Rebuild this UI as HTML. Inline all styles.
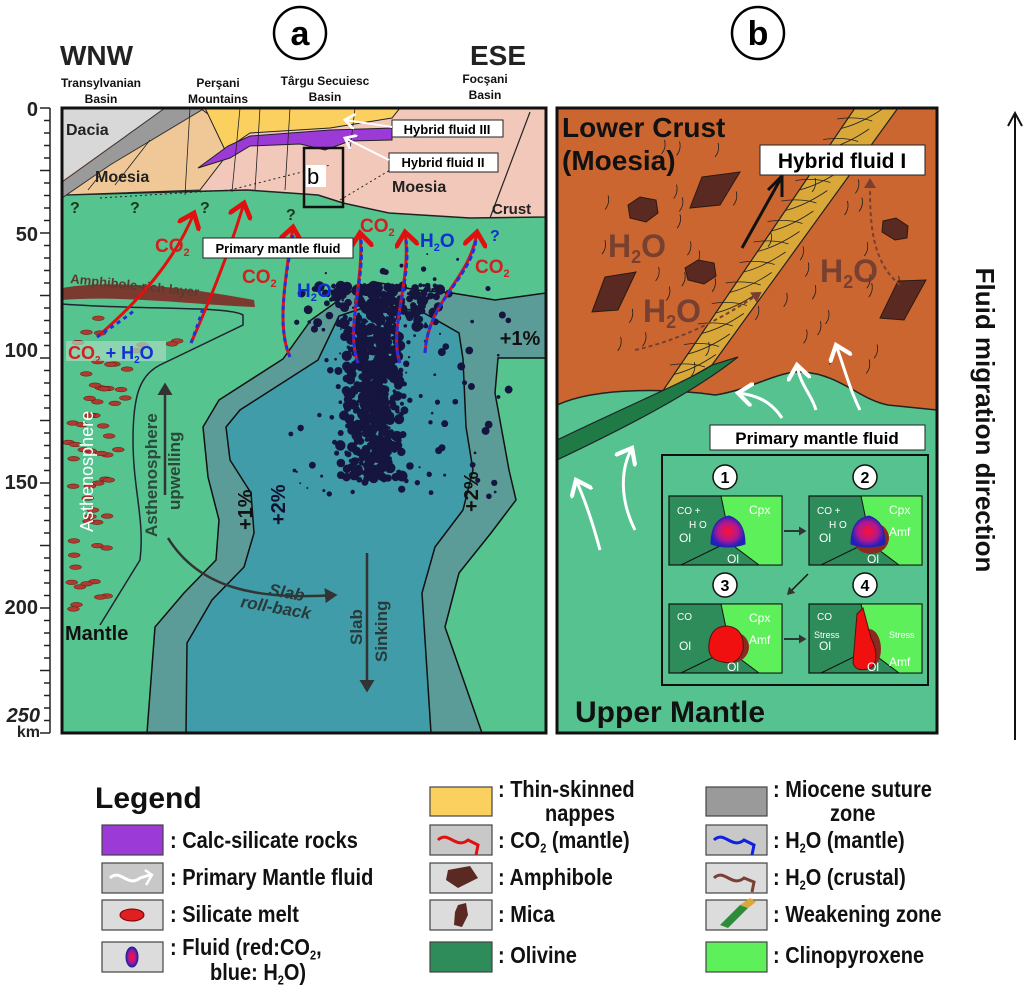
<!DOCTYPE html>
<html><head><meta charset="utf-8"><style>
html,body{margin:0;padding:0;background:#fff;}
svg{display:block;}
text{font-family:"Liberation Sans",sans-serif;}
</style></head><body>
<svg id="s" width="1024" height="985" viewBox="0 0 1024 985" xmlns="http://www.w3.org/2000/svg">
<defs>
<marker id="ar" markerWidth="8" markerHeight="8" refX="5" refY="4" orient="auto" markerUnits="strokeWidth"><path d="M0,0 L5,4 L0,8" fill="none" stroke="#e01010" stroke-width="1.6"/></marker>
<marker id="aw" markerWidth="8" markerHeight="8" refX="5" refY="4" orient="auto" markerUnits="strokeWidth"><path d="M0,0 L5,4 L0,8" fill="none" stroke="#fff" stroke-width="1.4"/></marker>
<marker id="ak" markerWidth="6" markerHeight="6" refX="4" refY="3" orient="auto" markerUnits="strokeWidth"><path d="M0,0 L5,3 L0,6 Z" fill="#333"/></marker>
<marker id="ab" markerWidth="6" markerHeight="6" refX="4" refY="3" orient="auto" markerUnits="strokeWidth"><path d="M0,0 L5,3 L0,6 Z" fill="#7a3f30"/></marker>
<radialGradient id="fl"><stop offset="0" stop-color="#ff1030"/><stop offset="0.6" stop-color="#b01890"/><stop offset="1" stop-color="#2020c0"/></radialGradient>
<clipPath id="ca"><rect x="62" y="108" width="484" height="625"/></clipPath>
<clipPath id="cb"><rect x="557" y="108" width="380" height="625"/></clipPath>
</defs>

<circle cx="300" cy="33" r="26" fill="#fff" stroke="#000" stroke-width="2.5"/>
<text x="300" y="45" font-size="34" font-weight="bold" text-anchor="middle">a</text>
<circle cx="758" cy="33" r="26" fill="#fff" stroke="#000" stroke-width="2.5"/>
<text x="758" y="45" font-size="34" font-weight="bold" text-anchor="middle">b</text>
<text x="60" y="65" font-size="28" font-weight="bold" fill="#222">WNW</text>
<text x="470" y="65" font-size="28" font-weight="bold" fill="#222">ESE</text>
<g font-size="12" font-weight="bold" text-anchor="middle" fill="#111">
<text x="101" y="87">Transylvanian</text><text x="101" y="103">Basin</text>
<text x="218" y="87">Perşani</text><text x="218" y="103">Mountains</text>
<text x="325" y="85">Târgu Secuiesc</text><text x="325" y="101">Basin</text>
<text x="485" y="83">Focşani</text><text x="485" y="99">Basin</text>
</g>

<g stroke="#222" stroke-width="1.5">
<line x1="50" y1="108" x2="50" y2="733"/>
</g>
<g id="ticks" stroke="#222" stroke-width="1.5"></g>
<g font-size="20" font-weight="bold" fill="#222" text-anchor="end">
<text x="38" y="116">0</text><text x="38" y="241">50</text><text x="38" y="357">100</text>
<text x="38" y="489">150</text><text x="38" y="614">200</text>
<text x="40" y="722" font-style="italic">250</text><text x="40" y="737" font-size="16">km</text>
</g>

<g clip-path="url(#ca)">
<rect x="62" y="108" width="484" height="625" fill="#55c48e"/>
<path d="M62,108 H546 V217 L470,218 L389,213 L343,203 L318,195 L247,190 L62,195 Z" fill="#f2c8ba" stroke="#222" stroke-width="1.5"/>
<path d="M200,108 L240,138 L200,190 L62,195 L62,195 Z" fill="#f0c898" stroke="#222" stroke-width="1"/>
<path d="M62,108 H165 L62,180 Z" fill="#d8d8d8"/>
<path d="M165,108 H205 L110,165 L62,198 L62,182 Z" fill="#9a9a9a" stroke="#333" stroke-width="1"/>
<path d="M205,108 H400 L392,118 L330,128 L250,133 L225,150 Z" fill="#fbd05e" stroke="#222" stroke-width="1"/>
<path d="M198,168 L228,146 L250,136 L330,130 L392,128 L392,140 L350,141 L325,150 L300,144 L250,146 L230,158 Z" fill="#9b3ad6" stroke="#222" stroke-width="1"/>
<path d="M530,112 L490,218" stroke="#222" stroke-width="1.2"/>
<g stroke="#222" stroke-width="0.8" fill="none">
<path d="M190,108 L185,195"/><path d="M240,108 L232,192"/><path d="M260,108 L255,190"/><path d="M290,108 L285,190"/><path d="M355,108 L350,150"/>
<path d="M100,175 L88,190" /><path d="M150,140 L115,185"/>
</g>
<g stroke="#222" stroke-width="1" stroke-dasharray="2,3" fill="none">
<path d="M100,198 L230,190 L330,165"/><path d="M340,200 L390,170"/>
</g>
<text x="66" y="135" font-size="16" font-weight="bold" fill="#222">Dacia</text>
<text x="95" y="182" font-size="16" font-weight="bold" fill="#222">Moesia</text>
<text x="392" y="192" font-size="16" font-weight="bold" fill="#222">Moesia</text>
<text x="492" y="214" font-size="15" font-weight="bold" fill="#222">Crust</text>
<g font-family="Liberation Serif" font-size="16" font-weight="bold" fill="#1a3a1a">
<text x="70" y="213">?</text><text x="130" y="213">?</text><text x="200" y="213">?</text><text x="286" y="220">?</text>
</g>
<path d="M375,282 L353,290 L311,320 L283,359 L219,400 L203,427 L208,477 L219,520 L216,560 L184,593 L155,627 L147,733 L482,733 L445,627 L459,573 L491,533 L516,500 L509,470 L495,393 L498,358 L546,358 L546,293 L495,300 L452,293 L417,290 Z" fill="#5c9c98" stroke="#111" stroke-width="1.5"/>
<path d="M378,303 L339,316 L318,360 L240,410 L226,427 L230,460 L251,493 L254,533 L244,567 L212,600 L187,643 L186,733 L431,733 L422,593 L435,547 L463,510 L473,470 L466,427 L463,359 L459,333 L424,313 Z" fill="#3f9ca8" stroke="#111" stroke-width="1.5"/>
<path d="M62,288 C120,278 200,290 254,300 L255,307 C200,305 120,295 62,300 Z" fill="#7a3a30"/>
<text x="70" y="283" font-family="Liberation Serif" font-size="13" font-weight="bold" fill="#5a3a30" transform="rotate(6 70 283)">Amphibole-rich layer</text>
<path d="M62,304 C140,310 230,306 243,315 L243,325 L160,365 C140,375 133,395 133,440 C133,490 145,520 140,560 L100,625" fill="none" stroke="#223" stroke-width="1.5"/>
<g id="ov" fill="#b03a30" stroke="#5a1a10" stroke-width="0.5"></g>
<g id="eq" fill="#151540"></g>
<g fill="none" stroke-width="3">
<path d="M97,337 C140,300 175,260 194,213" stroke="#e01010" marker-end="url(#ar)"/>
<path d="M97,337 C115,325 125,318 135,310" stroke="#2030e0" stroke-dasharray="4,4"/>
<path d="M191,343 C210,300 230,250 244,203" stroke="#e01010" marker-end="url(#ar)"/>
<path d="M191,343 C196,330 200,318 204,305" stroke="#2030e0" stroke-dasharray="4,4"/>
<path d="M290,357 C278,330 283,290 293,227" stroke="#e01010" marker-end="url(#ar)"/>
<path d="M290,357 C278,330 283,290 293,235" stroke="#2030e0" stroke-dasharray="4,4"/>
<path d="M358,363 C345,330 365,280 360,233" stroke="#e01010" marker-end="url(#ar)"/>
<path d="M358,363 C345,330 365,280 361,240" stroke="#2030e0" stroke-dasharray="5,3"/>
<path d="M400,363 C388,330 412,280 405,232" stroke="#e01010" marker-end="url(#ar)"/>
<path d="M400,363 C388,330 412,280 406,240" stroke="#2030e0" stroke-dasharray="5,3"/>
<path d="M425,353 C428,300 470,280 477,232" stroke="#e01010" marker-end="url(#ar)"/>
<path d="M425,353 C428,300 470,280 476,240" stroke="#2030e0" stroke-dasharray="5,3"/>
</g>
<g font-weight="bold" font-size="19">
<text x="155" y="252" fill="#d02020">CO<tspan font-size="11" dy="4">2</tspan></text>
<text x="242" y="283" fill="#d02020">CO<tspan font-size="11" dy="4">2</tspan></text>
<text x="297" y="297" fill="#1030d0">H<tspan font-size="11" dy="4">2</tspan><tspan dy="-4">O</tspan></text>
<text x="360" y="232" fill="#d02020">CO<tspan font-size="11" dy="4">2</tspan></text>
<text x="420" y="247" fill="#1030d0">H<tspan font-size="11" dy="4">2</tspan><tspan dy="-4">O</tspan></text>
<text x="475" y="273" fill="#d02020">CO<tspan font-size="11" dy="4">2</tspan></text>
<text x="490" y="241" fill="#1030d0" font-family="Liberation Serif" font-size="16">?</text>
</g>
<rect x="66" y="341" width="100" height="20" fill="#a8dcc0" opacity="0.7"/>
<text x="68" y="359" font-size="18" font-weight="bold"><tspan fill="#d02020">CO</tspan><tspan fill="#d02020" font-size="10" dy="4">2</tspan><tspan fill="#1030d0" dy="-4"> + H</tspan><tspan fill="#1030d0" font-size="10" dy="4">2</tspan><tspan fill="#1030d0" dy="-4">O</tspan></text>
<rect x="203" y="238" width="150" height="20" fill="#fff" stroke="#222"/>
<text x="278" y="253" font-size="13" font-weight="bold" text-anchor="middle">Primary mantle fluid</text>
<rect x="304" y="148" width="39" height="59" fill="none" stroke="#111" stroke-width="2.5"/>
<rect x="306" y="165" width="20" height="22" fill="#fff"/>
<text x="307" y="184" font-family="Liberation Serif" font-size="22">b</text>
<rect x="392" y="120" width="111" height="17" fill="#fff" stroke="#222"/>
<text x="447" y="134" font-size="13" font-weight="bold" text-anchor="middle">Hybrid fluid III</text>
<rect x="389" y="153" width="109" height="19" fill="#fff" stroke="#222"/>
<text x="443" y="167" font-size="13" font-weight="bold" text-anchor="middle">Hybrid fluid II</text>
<path d="M392,127 L345,120" stroke="#fff" stroke-width="2" marker-end="url(#aw)"/>
<path d="M389,160 L345,138" stroke="#fff" stroke-width="2" marker-end="url(#aw)"/>
<text x="520" y="345" font-size="20" font-weight="bold" text-anchor="middle" fill="#111">+1%</text>
<text transform="translate(252,530) rotate(-90)" font-size="20" font-weight="bold" fill="#111">+1%</text>
<text transform="translate(285,525) rotate(-90)" font-size="20" font-weight="bold" fill="#111030">+2%</text>
<text transform="translate(478,512) rotate(-90)" font-size="20" font-weight="bold" fill="#111">+2%</text>
<text transform="translate(93,532) rotate(-90)" font-size="18" fill="#fff">Asthenosphere</text>
<text transform="translate(157,537) rotate(-90)" font-size="17" font-weight="bold" fill="#2a4a3a">Asthenosphere</text>
<text transform="translate(180,510) rotate(-90)" font-size="17" font-weight="bold" fill="#2a4a3a">upwelling</text>
<line x1="165" y1="495" x2="165" y2="385" stroke="#333" stroke-width="2.5" marker-end="url(#ak)"/>
<path d="M168,538 C200,590 260,600 335,595" fill="none" stroke="#333" stroke-width="2.5" marker-end="url(#ak)"/>
<text x="268" y="595" font-size="17" font-style="italic" font-weight="bold" fill="#2a3a3a" transform="rotate(10 268 595)">Slab</text>
<text x="240" y="607" font-size="17" font-style="italic" font-weight="bold" fill="#2a3a3a" transform="rotate(10 240 607)">roll-back</text>
<line x1="367" y1="553" x2="367" y2="690" stroke="#333" stroke-width="2.5" marker-end="url(#ak)"/>
<text transform="translate(362,645) rotate(-90)" font-size="17" font-weight="bold" fill="#2a3a3a">Slab</text>
<text transform="translate(387,662) rotate(-90)" font-size="17" font-weight="bold" fill="#2a3a3a">Sinking</text>
<text x="65" y="640" font-size="20" font-weight="bold" fill="#111">Mantle</text>
</g>
<rect x="62" y="108" width="484" height="625" fill="none" stroke="#111" stroke-width="3"/>

<g clip-path="url(#cb)">
<rect x="557" y="108" width="380" height="625" fill="#cc6630"/>
<path d="M557,405 C600,385 680,390 715,395 C750,390 780,370 802,372 C840,374 860,400 888,405 L937,410 V733 H557 Z" fill="#55c290" stroke="#222" stroke-width="1.5"/>
<path d="M660,395 L855,108 L898,108 L712,365 Z" fill="#d9a838" stroke="#222" stroke-width="1.2"/>
<g stroke="#222" stroke-width="0.8" fill="none" id="mesh"></g>
<path d="M557,460 C620,430 690,395 738,357 L712,365 C690,380 640,400 557,440 Z" fill="#1f7a45" stroke="#222" stroke-width="1.2"/>
<g fill="#5a2a22" stroke="#2a1a10" stroke-width="1">
<polygon points="628,205 640,197 656,200 658,213 646,222 630,218"/>
<polygon points="685,268 698,260 714,263 716,276 704,284 688,280"/>
<polygon points="883,221 896,218 908,226 907,238 895,240 882,232"/>
<polygon points="702,177 740,172 720,205 690,208"/>
<polygon points="605,277 636,272 618,310 592,312"/>
<polygon points="898,281 926,280 904,320 880,318"/>
</g>
<g fill="#6a3a30" font-weight="bold" font-size="32" opacity="0.85">
<text x="608" y="257">H<tspan font-size="18" dy="6">2</tspan><tspan dy="-6">O</tspan></text>
<text x="643" y="322">H<tspan font-size="18" dy="6">2</tspan><tspan dy="-6">O</tspan></text>
<text x="820" y="282">H<tspan font-size="18" dy="6">2</tspan><tspan dy="-6">O</tspan></text>
</g>
<path d="M635,350 C680,340 720,320 760,293" fill="none" stroke="#7a3f30" stroke-width="2" stroke-dasharray="4,3" marker-end="url(#ab)"/>
<path d="M900,285 C870,260 870,220 870,180" fill="none" stroke="#7a3f30" stroke-width="2" stroke-dasharray="4,3" marker-end="url(#ab)"/>
<path d="M742,248 L780,180" stroke="#111" stroke-width="3"/><path d="M768,190 L782,176 L782,197" stroke="#111" stroke-width="3" fill="none"/>
<g fill="none" stroke="#fff" stroke-width="3">
<path d="M782,418 C770,400 755,395 738,393" marker-end="url(#aw)"/>
<path d="M816,410 C812,395 800,385 797,365" marker-end="url(#aw)"/>
<path d="M860,410 C850,390 845,370 836,345" marker-end="url(#aw)"/>
<path d="M600,550 C592,520 585,500 576,480" marker-end="url(#aw)"/>
<path d="M635,530 C620,500 620,470 632,448" marker-end="url(#aw)"/>
</g>
<rect x="710" y="425" width="215" height="25" fill="#fff" stroke="#222"/>
<text x="817" y="444" font-size="17" font-weight="bold" text-anchor="middle">Primary mantle fluid</text>
<rect x="760" y="145" width="165" height="30" fill="#fff" stroke="#222"/>
<text x="842" y="168" font-size="21" font-weight="bold" text-anchor="middle">Hybrid fluid I</text>
<text x="562" y="137" font-size="28" font-weight="bold" fill="#111">Lower Crust</text>
<text x="562" y="170" font-size="28" font-weight="bold" fill="#111">(Moesia)</text>
<rect x="662" y="455" width="266" height="230" fill="#55c290" stroke="#111" stroke-width="2"/>
<g id="subs"></g>
<text x="575" y="722" font-size="30" font-weight="bold" fill="#111">Upper Mantle</text>
</g>
<rect x="557" y="108" width="380" height="625" fill="none" stroke="#111" stroke-width="3"/>

<line x1="1015" y1="740" x2="1015" y2="115" stroke="#111" stroke-width="2"/>
<path d="M1008,126 L1015,113 L1022,126" fill="none" stroke="#111" stroke-width="2"/>
<text transform="translate(976,420) rotate(90)" font-size="26" font-weight="bold" text-anchor="middle" fill="#111">Fluid migration direction</text>

<text x="95" y="808" font-size="30" font-weight="bold" fill="#111">Legend</text>
<g stroke="#444" stroke-width="1.2">
<rect x="102" y="825" width="61" height="30" fill="#9b3ad6"/>
<rect x="102" y="863" width="61" height="30" fill="#c8c8c8"/>
<rect x="102" y="900" width="61" height="30" fill="#dcdcdc"/>
<rect x="102" y="942" width="61" height="30" fill="#dcdcdc"/>
<rect x="430" y="787" width="62" height="29" fill="#fbd05e"/>
<rect x="430" y="825" width="62" height="30" fill="#c8c8c8"/>
<rect x="430" y="863" width="62" height="30" fill="#dcdcdc"/>
<rect x="430" y="900" width="62" height="30" fill="#dcdcdc"/>
<rect x="430" y="942" width="62" height="30" fill="#2e8b5a"/>
<rect x="706" y="787" width="61" height="29" fill="#9a9a9a"/>
<rect x="706" y="825" width="61" height="30" fill="#c8c8c8"/>
<rect x="706" y="863" width="61" height="30" fill="#dcdcdc"/>
<rect x="706" y="900" width="61" height="30" fill="#dcdcdc"/>
<rect x="706" y="942" width="61" height="30" fill="#5ef05a"/>
</g>
<path d="M110,878 C120,868 128,888 140,878 L150,875" fill="none" stroke="#fff" stroke-width="3"/><path d="M145,870 L152,875 L146,885" fill="none" stroke="#fff" stroke-width="2.5"/>
<ellipse cx="132" cy="915" rx="12" ry="6" fill="#e02020" stroke="#700"/>
<ellipse cx="132" cy="957" rx="6" ry="10" fill="url(#fl)" stroke="#228"/>
<path d="M438,840 C448,830 456,850 468,840 L478,845 L476,855" fill="none" stroke="#e01010" stroke-width="3"/>
<polygon points="448,870 470,866 478,878 458,888 446,880" fill="#5a2a22"/>
<polygon points="458,905 466,903 468,915 462,927 454,925 455,912" fill="#5a2a22"/>
<path d="M714,840 C724,830 732,850 744,840 L754,845 L752,855" fill="none" stroke="#1020e0" stroke-width="3"/>
<path d="M714,878 C724,868 732,888 744,878 L754,882 L752,892" fill="none" stroke="#7a4035" stroke-width="3"/>
<polygon points="720,925 740,905 748,908 728,928" fill="#2e8b3a"/><polygon points="740,905 750,898 756,902 748,908" fill="#d9a838"/>
<g font-size="20" font-weight="bold" fill="#111" id="leg">
<text x="170" y="848">: Calc-silicate rocks</text>
<text x="170" y="885">: Primary Mantle fluid</text>
<text x="170" y="922">: Silicate melt</text>
<text x="170" y="955">: Fluid (red:CO<tspan font-size="11" dy="4">2</tspan><tspan dy="-4">,</tspan></text>
<text x="210" y="980">blue: H<tspan font-size="11" dy="4">2</tspan><tspan dy="-4">O)</tspan></text>
<text x="498" y="797">: Thin-skinned</text>
<text x="545" y="821">nappes</text>
<text x="498" y="848">: CO<tspan font-size="11" dy="4">2</tspan><tspan dy="-4"> (mantle)</tspan></text>
<text x="498" y="885">: Amphibole</text>
<text x="498" y="922">: Mica</text>
<text x="498" y="963">: Olivine</text>
<text x="773" y="797">: Miocene suture</text>
<text x="830" y="821">zone</text>
<text x="773" y="848">: H<tspan font-size="11" dy="4">2</tspan><tspan dy="-4">O (mantle)</tspan></text>
<text x="773" y="885">: H<tspan font-size="11" dy="4">2</tspan><tspan dy="-4">O (crustal)</tspan></text>
<text x="773" y="922">: Weakening zone</text>
<text x="773" y="963">: Clinopyroxene</text>
</g>
</svg>
<script>
(function(){
var NS="http://www.w3.org/2000/svg";
function el(p,t,a){var e=document.createElementNS(NS,t);for(var k in a)e.setAttribute(k,a[k]);p.appendChild(e);return e;}
var seed=7;function r(){seed=(seed*9301+49297)%233280;return seed/233280;}
var tk=document.getElementById('ticks');
for(var y=108;y<=733;y+=12.5){el(tk,'line',{x1:50,y1:y,x2:((Math.round((y-108)/12.5)%5==0)?40:44),y2:y});}
var ov=document.getElementById('ov');
for(var i=0;i<60;i++){var x=72+r()*160,yy=318+r()*300;
 if(yy>360){x=68+r()*(yy<450?60:45);} if(yy<325 && x>235) continue;
 el(ov,'ellipse',{cx:x,cy:yy,rx:6,ry:2.3});}
var eq=document.getElementById('eq');
for(var i=0;i<750;i++){var a=r(),b=r(),c=r();
 var yy=285+Math.pow(a,1.2)*195; var sp=22+(yy<330?22:0);
 var x=378+(b+c-1)*sp*1.6 - (yy-290)*0.03;
 el(eq,'circle',{cx:x,cy:yy,r:1+r()*4.5});}
for(var i=0;i<110;i++){el(eq,'circle',{cx:290+r()*220,cy:250+r()*250,r:0.8+r()*3.2});}
var m=document.getElementById('mesh');
for(var i=0;i<14;i++){var t=i/14;var x1=660+t*195,y1=395-t*287;
 el(m,'path',{d:'M'+(x1)+','+y1+' q20,-5 '+(42)+','+(-20)});
 el(m,'path',{d:'M'+(x1+45)+','+(y1-28)+' q-15,-5 -35,-2'});}
for(var i=0;i<40;i++){var x=600+r()*300,yy=150+r()*230;el(m,'path',{d:'M'+x+','+yy+' q5,-6 3,-14'});}
var lg=document.getElementById('leg').children;
for(var i=0;i<lg.length;i++){var t=lg[i];var x=t.getAttribute('x'),y=t.getAttribute('y');t.setAttribute('transform','translate('+x+','+y+') scale(1,1.15) translate('+(-x)+','+(-y)+')');}
var S=document.getElementById('subs');
var P=[[669,496,1],[809,496,2],[669,604,3],[809,604,4]];
P.forEach(function(p){var x=p[0],y=p[1];
 el(S,'rect',{x:x,y:y,width:113,height:69,fill:'#2e8b5a',stroke:'#111','stroke-width':1.2});
 el(S,'polygon',{points:(x+52)+','+y+' '+(x+113)+','+y+' '+(x+113)+','+(y+69)+' '+(x+90)+','+(y+69)+' '+(x+62)+','+(y+48),fill:'#5ef05a',stroke:'#111'});
 el(S,'polyline',{points:(x+12)+','+(y+69)+' '+(x+55)+','+(y+48)+' '+(x+62)+','+(y+48),fill:'none',stroke:'#111'});
 var n=p[2];
 el(S,'circle',{cx:x+56,cy:y-19,r:12,fill:'#fff',stroke:'#111','stroke-width':1.5});
 var t=el(S,'text',{x:x+56,y:y-13,'font-size':16,'font-weight':'bold','text-anchor':'middle','font-family':'Liberation Serif'});t.textContent=n;
 if(n==1||n==2){ if(n==2) el(S,'ellipse',{cx:x+62,cy:y+42,rx:18,ry:16,fill:'#8a2a20'});
  el(S,'path',{d:'M'+(x+42)+','+(y+48)+' q0,-25 18,-28 q16,5 16,28 q-17,6 -34,0z',fill:'url(#fl)',stroke:'#22a'});}
 if(n==3){el(S,'ellipse',{cx:x+62,cy:y+43,rx:18,ry:16,fill:'#8a2a20'});el(S,'path',{d:'M'+(x+40)+','+(y+40)+' q2,-18 18,-18 q18,2 16,24 q-5,16 -20,12 q-16,-2 -14,-18z',fill:'#f01010',stroke:'#511'});}
 if(n==4){el(S,'ellipse',{cx:x+60,cy:y+45,rx:12,ry:20,fill:'#8a2a20'});el(S,'path',{d:'M'+(x+48)+','+(y+10)+' l6,-6 l8,30 q10,20 0,30 q-15,5 -18,-5z',fill:'#f01010',stroke:'#511'});}
 var lab=[];
 if(n<4)lab.push(['Cpx',x+80,y+18,12]);
 lab.push(['Ol',x+10,y+46,12]);lab.push(['Ol',x+58,y+67,12]);
 if(n>1)lab.push(['Amf',x+80,y+(n==4?62:40),12]);
 if(n<3){lab.push(['CO  +',x+8,y+18,10]);lab.push(['H O',x+20,y+32,10]);}
 else lab.push(['CO',x+8,y+16,10]);
 if(n==4){lab.push(['Stress',x+5,y+34,9]);lab.push(['Stress',x+80,y+34,9]);}
 lab.forEach(function(l){var t=el(S,'text',{x:l[1],y:l[2],'font-size':l[3],fill:'#fff'});t.textContent=l[0];});
});
el(S,'path',{d:'M784,531 L805,531',stroke:'#111','stroke-width':1.5,'marker-end':'url(#ak)'});
el(S,'path',{d:'M784,639 L805,639',stroke:'#111','stroke-width':1.5,'marker-end':'url(#ak)'});
el(S,'path',{d:'M808,574 L788,594',stroke:'#111','stroke-width':1.5,'marker-end':'url(#ak)'});
})();
</script>
</body></html>
